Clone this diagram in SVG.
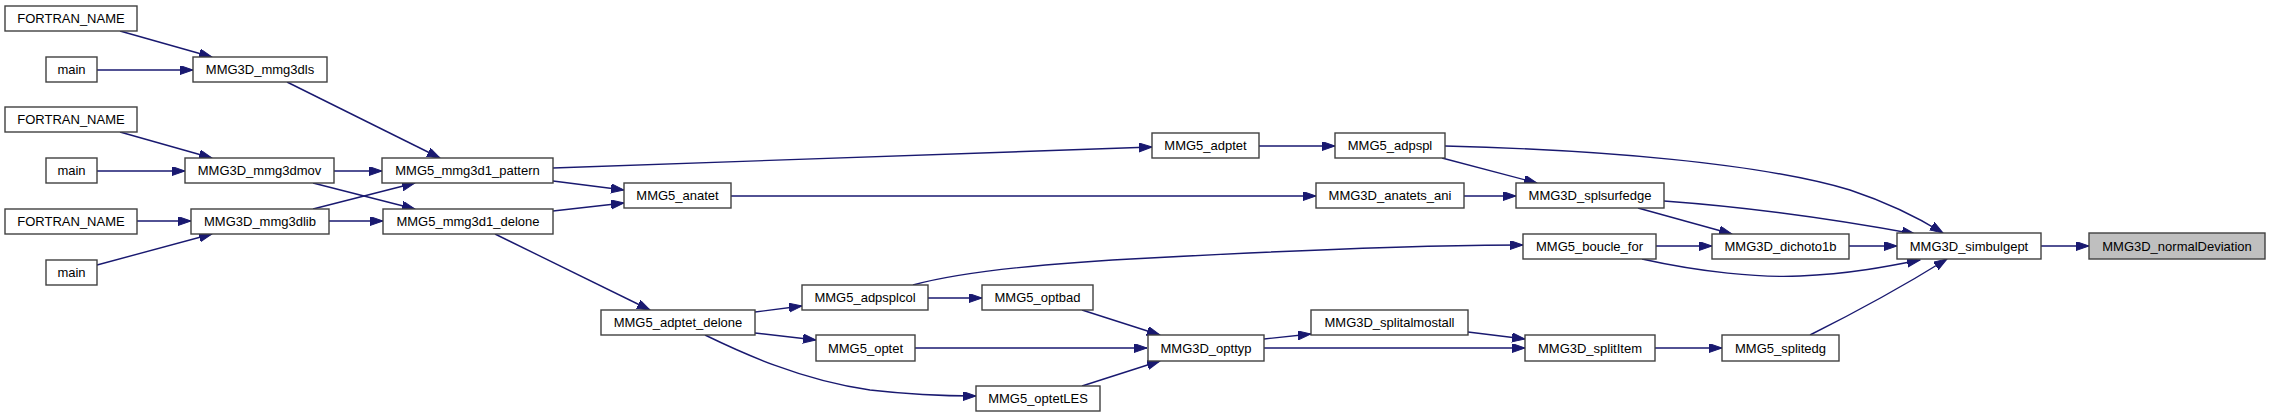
<svg xmlns="http://www.w3.org/2000/svg" width="2271" height="417" viewBox="0 0 2271 417">
<style>
.n rect{fill:#fff;stroke:#404040;stroke-width:1.4}
.n text{font-family:"Liberation Sans",Arial,sans-serif;font-size:13px;fill:#000;text-anchor:middle}
#n_normalDeviation rect{fill:#bfbfbf}
.e path{fill:none;stroke:#191970;stroke-width:1.4;marker-end:url(#ah)}
</style>
<defs>
<marker id="ah" markerUnits="userSpaceOnUse" markerWidth="14" markerHeight="10" refX="13" refY="4.5" orient="auto">
<path d="M0,0 L13,4.5 L0,9 z" fill="#191970" stroke="#191970" stroke-width="1"/>
</marker>
</defs>
<rect width="2271" height="417" fill="#fff"/>
<g id="edges" class="e">
<path d="M120,31 L212,57"/>
<path d="M97,70 L193,70"/>
<path d="M287,82 L440,158"/>
<path d="M120,132 L212,158"/>
<path d="M97,171 L185,171"/>
<path d="M334,171 L382,171"/>
<path d="M313,183 L415,209"/>
<path d="M313,209 L415,183"/>
<path d="M137,221 L191,221"/>
<path d="M97,265 L212,234"/>
<path d="M329,221 L383,221"/>
<path d="M553,181 L624,190"/>
<path d="M553,211 L624,203"/>
<path d="M553,168 L1152,147"/>
<path d="M731,196 L1316,196"/>
<path d="M495,234 L650,310"/>
<path d="M755,312 L802,306"/>
<path d="M755,333 L816,340"/>
<path d="M705,335 C740,352 800,380 870,390 C905,394 940,396 976,396"/>
<path d="M928,298 L982,298"/>
<path d="M913,285 C960,272 1050,263 1150,258 C1300,250 1420,245 1523,245"/>
<path d="M1082,310 L1160,335"/>
<path d="M915,348 L1147,348"/>
<path d="M1082,386 L1160,361"/>
<path d="M1264,339 L1311,334"/>
<path d="M1264,348 L1525,348"/>
<path d="M1468,332 L1525,339"/>
<path d="M1259,146 L1335,146"/>
<path d="M1442,158 L1537,183"/>
<path d="M1445,146 C1600,150 1760,163 1850,190 C1895,205 1922,220 1943,233"/>
<path d="M1464,196 L1516,196"/>
<path d="M1664,201 C1760,208 1850,222 1915,234"/>
<path d="M1638,208 L1732,234"/>
<path d="M1656,246 L1712,246"/>
<path d="M1642,259 C1700,272 1760,278 1800,276 C1850,274 1890,266 1920,260"/>
<path d="M1849,246 L1897,246"/>
<path d="M1655,348 L1722,348"/>
<path d="M1810,335 C1860,310 1910,282 1947,259"/>
<path d="M2041,246 L2089,246"/>
</g>
<g id="n_fortran1" class="n"><rect x="5" y="6" width="132" height="25"/><text x="71" y="23">FORTRAN_NAME</text></g>
<g id="n_main1" class="n"><rect x="46" y="57" width="51" height="25"/><text x="71.5" y="74">main</text></g>
<g id="n_mmg3dls" class="n"><rect x="193" y="57" width="134" height="25"/><text x="260" y="74">MMG3D_mmg3dls</text></g>
<g id="n_fortran2" class="n"><rect x="5" y="107" width="132" height="25"/><text x="71" y="124">FORTRAN_NAME</text></g>
<g id="n_main2" class="n"><rect x="46" y="158" width="51" height="25"/><text x="71.5" y="175">main</text></g>
<g id="n_mmg3dmov" class="n"><rect x="185" y="158" width="149" height="25"/><text x="259.5" y="175">MMG3D_mmg3dmov</text></g>
<g id="n_fortran3" class="n"><rect x="5" y="209" width="132" height="25"/><text x="71" y="226">FORTRAN_NAME</text></g>
<g id="n_mmg3dlib" class="n"><rect x="191" y="209" width="138" height="25"/><text x="260" y="226">MMG3D_mmg3dlib</text></g>
<g id="n_main3" class="n"><rect x="46" y="260" width="51" height="25"/><text x="71.5" y="277">main</text></g>
<g id="n_pattern" class="n"><rect x="382" y="158" width="171" height="25"/><text x="467.5" y="175">MMG5_mmg3d1_pattern</text></g>
<g id="n_delone" class="n"><rect x="383" y="209" width="170" height="25"/><text x="468" y="226">MMG5_mmg3d1_delone</text></g>
<g id="n_anatet" class="n"><rect x="624" y="183" width="107" height="25"/><text x="677.5" y="200">MMG5_anatet</text></g>
<g id="n_adptet_delone" class="n"><rect x="601" y="310" width="154" height="25"/><text x="678" y="327">MMG5_adptet_delone</text></g>
<g id="n_adpsplcol" class="n"><rect x="802" y="285" width="126" height="25"/><text x="865" y="302">MMG5_adpsplcol</text></g>
<g id="n_optet" class="n"><rect x="816" y="335" width="99" height="26"/><text x="865.5" y="352.5">MMG5_optet</text></g>
<g id="n_optbad" class="n"><rect x="982" y="285" width="111" height="25"/><text x="1037.5" y="302">MMG5_optbad</text></g>
<g id="n_optetLES" class="n"><rect x="976" y="386" width="124" height="25"/><text x="1038" y="403">MMG5_optetLES</text></g>
<g id="n_adptet" class="n"><rect x="1152" y="133" width="107" height="25"/><text x="1205.5" y="150">MMG5_adptet</text></g>
<g id="n_opttyp" class="n"><rect x="1148" y="335" width="116" height="26"/><text x="1206" y="352.5">MMG3D_opttyp</text></g>
<g id="n_adpspl" class="n"><rect x="1335" y="133" width="110" height="25"/><text x="1390" y="150">MMG5_adpspl</text></g>
<g id="n_anatets_ani" class="n"><rect x="1316" y="183" width="148" height="25"/><text x="1390" y="200">MMG3D_anatets_ani</text></g>
<g id="n_splitalmostall" class="n"><rect x="1311" y="310" width="157" height="25"/><text x="1389.5" y="327">MMG3D_splitalmostall</text></g>
<g id="n_splsurfedge" class="n"><rect x="1516" y="183" width="148" height="25"/><text x="1590" y="200">MMG3D_splsurfedge</text></g>
<g id="n_boucle_for" class="n"><rect x="1523" y="234" width="133" height="25"/><text x="1589.5" y="251">MMG5_boucle_for</text></g>
<g id="n_splitItem" class="n"><rect x="1525" y="335" width="130" height="26"/><text x="1590" y="352.5">MMG3D_splitItem</text></g>
<g id="n_dichoto1b" class="n"><rect x="1712" y="234" width="137" height="25"/><text x="1780.5" y="251">MMG3D_dichoto1b</text></g>
<g id="n_splitedg" class="n"><rect x="1722" y="335" width="117" height="26"/><text x="1780.5" y="352.5">MMG5_splitedg</text></g>
<g id="n_simbulgept" class="n"><rect x="1897" y="233" width="144" height="26"/><text x="1969" y="250.5">MMG3D_simbulgept</text></g>
<g id="n_normalDeviation" class="n"><rect x="2089" y="233" width="176" height="26"/><text x="2177" y="250.5">MMG3D_normalDeviation</text></g>
</svg>
